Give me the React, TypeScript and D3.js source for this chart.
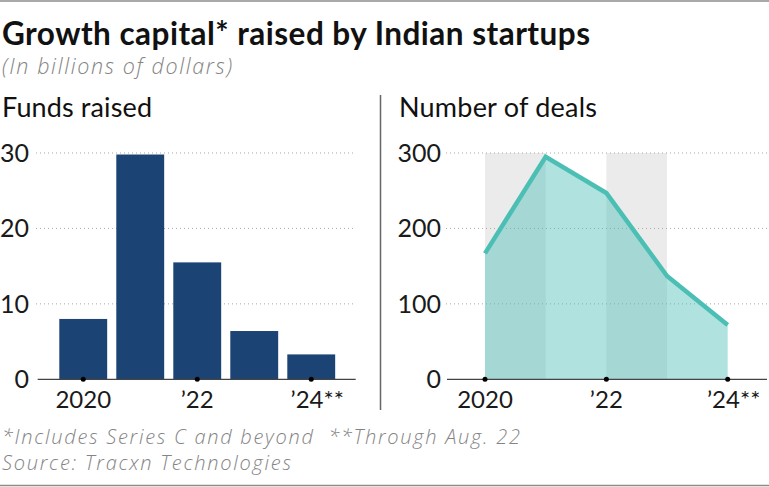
import React from "react";
import * as d3 from "d3";

const years = [2020, 2021, 2022, 2023, 2024];
const fundsRaised = [8, 29.8, 15.5, 6.4, 3.3];
const numberOfDeals = [167, 295, 247, 137, 72];
const tickYears = [2020, 2022, 2024];
const tickLabels = ["2020", "\u201922", "\u201924**"];
const fundsTicks = [0, 10, 20, 30];
const dealsTicks = [0, 100, 200, 300];
const shadedPairs = [[2020, 2021], [2022, 2023]];

const W = 769;
const H = 487;
const FONT = "Lato, 'Open Sans', sans-serif";
const ITALIC_FONT = "'Open Sans', Lato, sans-serif";

export default function App() {
  const yTop = 153;
  const yBase = 379.3;

  const xL = d3.scaleBand<number>().domain(years).range([54.74, 339.74]).paddingInner(0.16).paddingOuter(0.08);
  const yL = d3.scaleLinear().domain([0, 30]).range([yBase, yTop]);

  const xR = d3.scalePoint<number>().domain(years).range([485, 727.7]);
  const yR = d3.scaleLinear().domain([0, 300]).range([yBase, yTop]);

  const dealsData = years.map((y, i) => ({ y, v: numberOfDeals[i] }));
  const area = d3.area<{ y: number; v: number }>().x((d) => xR(d.y)!).y0(yR(0)).y1((d) => yR(d.v));
  const line = d3.line<{ y: number; v: number }>().x((d) => xR(d.y)!).y((d) => yR(d.v));

  const gridColor = "#a8a8a8";
  const labelColor = "#1a1a1a";
  const noteColor = "#848484";

  return (
    <svg width={W} height={H} style={{ position: "absolute", left: 0, top: 0, background: "#fff" }} fontFamily={FONT}>
      <line x1={0} x2={W} y1={1} y2={1} stroke="#8c8c8c" strokeWidth={1.5} />
      <line x1={0} x2={W} y1={485.5} y2={485.5} stroke="#8c8c8c" strokeWidth={1.5} />

      <text x={2} y={45} fontSize={31.5} fontWeight={700} fill="#111" textLength={588} lengthAdjust="spacing">Growth capital* raised by Indian startups</text>
      <text x={2} y={74} fontSize={21.5} fontStyle="italic" fontFamily={ITALIC_FONT} fontWeight={300} fill={noteColor} textLength={230} lengthAdjust="spacing">(In billions of dollars)</text>

      <text x={2} y={117} fontSize={27} fill="#111" textLength={150} lengthAdjust="spacing">Funds raised</text>
      <text x={399} y={117} fontSize={27} fill="#111" textLength={198} lengthAdjust="spacing">Number of deals</text>

      <line x1={380.5} x2={380.5} y1={95} y2={410} stroke="#666" strokeWidth={1.5} />

      {/* Left chart */}
      {fundsTicks.filter((t) => t > 0).map((t) => (
        <line key={"gl" + t} x1={36} x2={355} y1={yL(t)} y2={yL(t)} stroke={gridColor} strokeWidth={1} strokeDasharray="1 3" />
      ))}
      {fundsTicks.map((t) => (
        <text key={"tl" + t} x={29} y={yL(t)} dy="0.36em" textAnchor="end" fontSize={25} fill={labelColor}>{t}</text>
      ))}
      {years.map((y, i) => (
        <rect key={"b" + y} x={xL(y)} y={yL(fundsRaised[i])} width={xL.bandwidth()} height={yL(0) - yL(fundsRaised[i])} fill="#1b4474" />
      ))}
      <line x1={37.7} x2={355.7} y1={yL(0)} y2={yL(0)} stroke="#444" strokeWidth={1.2} />
      {tickYears.map((y, i) => (
        <g key={"xl" + y}>
          <circle cx={xL(y)! + xL.bandwidth() / 2} cy={yL(0)} r={2.5} fill="#000" />
          <text x={xL(y)! + xL.bandwidth() / 2 + (i === 2 ? 6 : 0)} y={408} textAnchor="middle" fontSize={24} fill={labelColor}>{tickLabels[i]}</text>
        </g>
      ))}

      {/* Right chart */}
      {shadedPairs.map(([a, b]) => (
        <rect key={"s" + a} x={xR(a)} y={yR(300)} width={xR(b)! - xR(a)!} height={yR(0) - yR(300)} fill="#ebebeb" />
      ))}
      {dealsTicks.filter((t) => t > 0).map((t) => (
        <line key={"gr" + t} x1={446} x2={769} y1={yR(t)} y2={yR(t)} stroke={gridColor} strokeWidth={1} strokeDasharray="1 3" />
      ))}
      <path d={area(dealsData)!} fill="#4fc1b8" fillOpacity={0.45} />
      <path d={line(dealsData)!} fill="none" stroke="#4cbfb5" strokeWidth={4.5} strokeLinejoin="miter" />
      {dealsTicks.map((t) => (
        <text key={"tr" + t} x={441} y={yR(t)} dy="0.36em" textAnchor="end" fontSize={25} fill={labelColor}>{t}</text>
      ))}
      <line x1={447} x2={767} y1={yR(0)} y2={yR(0)} stroke="#444" strokeWidth={1.2} />
      {tickYears.map((y, i) => (
        <g key={"xr" + y}>
          <circle cx={xR(y)} cy={yR(0)} r={2.5} fill="#000" />
          <text x={xR(y)! + (i === 2 ? 6 : 0)} y={408} textAnchor="middle" fontSize={24} fill={labelColor}>{tickLabels[i]}</text>
        </g>
      ))}

      <text x={2} y={444} fontSize={20} fontStyle="italic" fontFamily={ITALIC_FONT} fontWeight={300} fill={noteColor} textLength={518} lengthAdjust="spacing">*Includes Series C and beyond{"\u00a0\u00a0"}**Through Aug. 22</text>
      <text x={2} y={470} fontSize={20} fontStyle="italic" fontFamily={ITALIC_FONT} fontWeight={300} fill={noteColor} textLength={289} lengthAdjust="spacing">Source: Tracxn Technologies</text>
    </svg>
  );
}
